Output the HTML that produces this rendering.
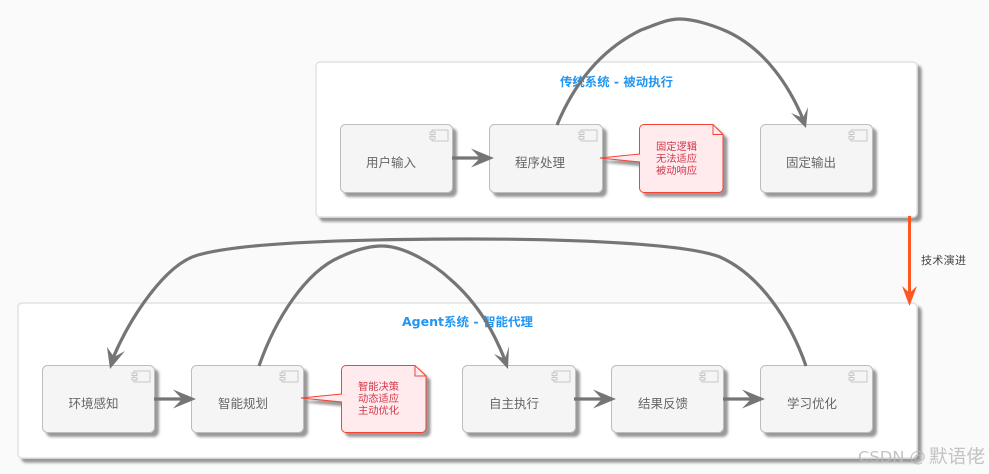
<!DOCTYPE html>
<html><head><meta charset="utf-8"><style>
html,body{margin:0;padding:0;background:#fafafa}
svg{display:block}
text{font-family:"DejaVu Sans","WenQuanYi Zen Hei","Noto Sans CJK SC",sans-serif}
.n{font-size:12.5px;fill:#666}
.t{font-size:12px;font-weight:bold;fill:#2196f3}
.r{font-size:10.300px;fill:#d0384a}
.box{fill:#f5f5f5;stroke:#bdbdbd;stroke-width:1}
.c{fill:#fff;stroke:#e2e2e2;stroke-width:1.5}
.note{fill:#ffebee;stroke:#f44336;stroke-width:1}
.ic{fill:#f5f5f5;stroke:#bdbdbd;stroke-width:.8}
.l{fill:none;stroke:#757575;stroke-width:3.200}
.h{fill:#757575;stroke:none}
</style></head><body>
<svg width="989" height="474" viewBox="0 0 989 474" xmlns="http://www.w3.org/2000/svg">
<defs>
<filter id="s" x="-10%" y="-10%" width="120%" height="125%"><feDropShadow dx="4" dy="4" stdDeviation="1.400" flood-color="#777" flood-opacity=".75"/></filter>
<g id="icon"><rect class="ic" x="-16" y="0" width="16" height="11"/><rect class="ic" x="-18" y="2" width="5" height="2.500"/><rect class="ic" x="-18" y="6.500" width="5" height="2.500"/></g>
</defs>
<rect width="989" height="474" fill="#fafafa"/>

<rect class="c" x="316" y="62" width="601" height="155" rx="4" filter="url(#s)"/>
<rect class="c" x="18" y="303" width="899" height="155" rx="4" filter="url(#s)"/>

<text class="t" x="560" y="86" textLength="113" lengthAdjust="spacingAndGlyphs">传统系统 - 被动执行</text>
<text class="t" x="402" y="326" textLength="131" lengthAdjust="spacingAndGlyphs">Agent系统 - 智能代理</text>

<rect class="box" x="340.500" y="124.500" width="112" height="68" rx="5" filter="url(#s)"/>
<rect class="box" x="489.500" y="124.500" width="113" height="68" rx="5" filter="url(#s)"/>
<rect class="box" x="760.500" y="124.500" width="112" height="68" rx="5" filter="url(#s)"/>
<rect class="box" x="42.500" y="365.500" width="112" height="67" rx="5" filter="url(#s)"/>
<rect class="box" x="191.500" y="365.500" width="112" height="67" rx="5" filter="url(#s)"/>
<rect class="box" x="462.500" y="365.500" width="113" height="67" rx="5" filter="url(#s)"/>
<rect class="box" x="611.500" y="365.500" width="112" height="67" rx="5" filter="url(#s)"/>
<rect class="box" x="760.500" y="365.500" width="112" height="67" rx="5" filter="url(#s)"/>

<use href="#icon" x="448" y="130"/><use href="#icon" x="597" y="130"/><use href="#icon" x="867" y="130"/>
<use href="#icon" x="150" y="371"/><use href="#icon" x="298" y="371"/><use href="#icon" x="570" y="371"/><use href="#icon" x="718" y="371"/><use href="#icon" x="867" y="371"/>

<path class="note" filter="url(#s)" d="M644 124.500H713L723 134.500V188a4.500 4.500 0 0 1-4.500 4.500H644a4.500 4.500 0 0 1-4.500-4.500V162L600 158L639.500 154V129a4.500 4.500 0 0 1 4.500-4.500Z"/>
<path d="M713 124.500V134.500H723" fill="none" stroke="#f44336"/>
<path class="note" filter="url(#s)" d="M346 365.500H415L426 376V428a4.500 4.500 0 0 1-4.500 4.500H346a4.500 4.500 0 0 1-4.500-4.500V402L301 398L341.500 394V370a4.500 4.500 0 0 1 4.500-4.500Z"/>
<path d="M415 365.500V376H426" fill="none" stroke="#f44336"/>

<text class="n" x="366" y="167" textLength="50">用户输入</text>
<text class="n" x="515" y="167" textLength="50">程序处理</text>
<text class="n" x="786" y="167" textLength="50">固定输出</text>
<text class="n" x="68.500" y="408" textLength="50">环境感知</text>
<text class="n" x="218" y="408" textLength="50">智能规划</text>
<text class="n" x="489" y="408" textLength="50">自主执行</text>
<text class="n" x="638" y="408" textLength="50">结果反馈</text>
<text class="n" x="787" y="408" textLength="50">学习优化</text>

<text class="r" x="656" y="150" textLength="41">固定逻辑</text>
<text class="r" x="656" y="162" textLength="41">无法适应</text>
<text class="r" x="656" y="174" textLength="41">被动响应</text>
<text class="r" x="358" y="390" textLength="41">智能决策</text>
<text class="r" x="358" y="402" textLength="41">动态适应</text>
<text class="r" x="358" y="414" textLength="41">主动优化</text>

<path class="l" d="M452 158H482"/><path class="h" d="M494 158L471 148.500L480 158L471 167.500Z"/>
<path class="l" d="M154 399H184"/><path class="h" d="M196 399L173 389.500L182 399L173 408.500Z"/>
<path class="l" d="M574 399H604"/><path class="h" d="M616 399L593 389.500L602 399L593 408.500Z"/>
<path class="l" d="M723 399H753"/><path class="h" d="M765 399L742 389.500L751 399L742 408.500Z"/>

<path class="l" d="M557 125C574 84 600 50 641 30C660 23 668 19 680 19C692 19 710 24 726 31C766 49 790 88 803 119"/>
<path class="h" d="M806 128L791 113L803 118L808 107Z"/>

<path class="l" d="M806 366C790 320 760 275 720 257C690 245 590 239 470 239C350 239 240 243 198 255C165 264 130 318 113 358"/>
<path class="h" d="M110 369L107 347L114 357L125 351Z"/>

<path class="l" d="M259 366C275 320 305 272 340 257C355 250 370 246 382 246C405 246 435 265 450 279C480 305 495 335 505 360"/>
<path class="h" d="M508 369L494 354L505 359L509 346Z"/>

<path d="M909.500 216V296" stroke="#ff5722" stroke-width="3" fill="none"/>
<path d="M909.500 306L902 286L909.500 293L917 286Z" fill="#ff5722"/>
<text x="921" y="264" font-size="11" fill="#444" textLength="45">技术演进</text>

<text x="858" y="462" font-size="15" fill="#b8b8b8" fill-opacity=".85" textLength="68" lengthAdjust="spacingAndGlyphs">CSDN @</text>
<text x="929" y="463" font-size="18.500" fill="#b8b8b8" fill-opacity=".85" textLength="56" lengthAdjust="spacingAndGlyphs">默语佬</text>
</svg>
</body></html>
